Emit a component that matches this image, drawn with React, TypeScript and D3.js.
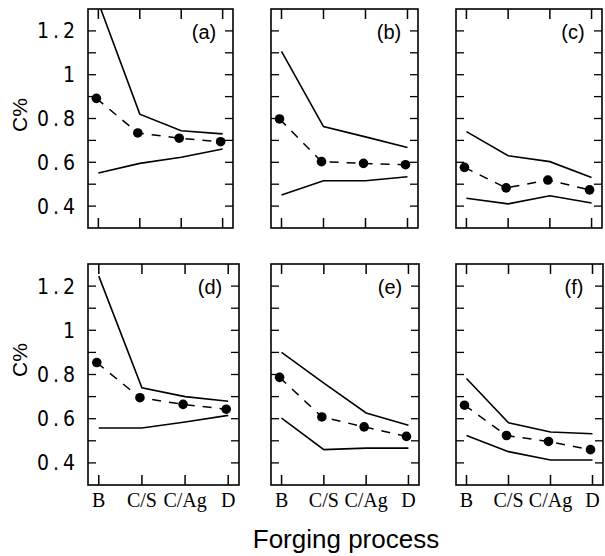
import React from 'react';
import * as d3 from 'd3';

const W = 605;
const H = 556;

const categories = ['B', 'C/S', 'C/Ag', 'D'];
const yTicks = [0.4, 0.5, 0.6, 0.7, 0.8, 0.9, 1.0, 1.1, 1.2];
const yLabels = ['0.4', '0.6', '0.8', '1', '1.2'];
const panelNames = ['(a)', '(b)', '(c)', '(d)', '(e)', '(f)'];

// upper bound / mean / lower bound of C% for each panel
const upperA = [1.33, 0.82, 0.744, 0.73];
const meanA = [0.892, 0.734, 0.71, 0.694];
const lowerA = [0.551, 0.595, 0.623, 0.661];

const upperB = [1.107, 0.763, 0.716, 0.668];
const meanB = [0.798, 0.603, 0.595, 0.589];
const lowerB = [0.451, 0.516, 0.516, 0.534];

const upperC = [0.74, 0.63, 0.603, 0.531];
const meanC = [0.577, 0.483, 0.519, 0.474];
const lowerC = [0.436, 0.41, 0.447, 0.414];

const upperD = [1.245, 0.74, 0.7, 0.679];
const meanD = [0.854, 0.695, 0.665, 0.643];
const lowerD = [0.558, 0.558, 0.585, 0.615];

const upperE = [0.9, 0.761, 0.626, 0.57];
const meanE = [0.787, 0.608, 0.563, 0.52];
const lowerE = [0.603, 0.46, 0.467, 0.467];

const upperF = [0.782, 0.582, 0.54, 0.532];
const meanF = [0.661, 0.524, 0.497, 0.46];
const lowerF = [0.524, 0.451, 0.413, 0.413];

const series = [
  [upperA, meanA, lowerA],
  [upperB, meanB, lowerB],
  [upperC, meanC, lowerC],
  [upperD, meanD, lowerD],
  [upperE, meanE, lowerE],
  [upperF, meanF, lowerF],
];

// panel boxes [left, right, top, bottom]
const boxes = [
  [88, 233, 9, 228],
  [271, 418, 9, 228],
  [456, 602, 9, 228],
  [88, 239, 264, 485],
  [271, 419, 264, 485],
  [456, 603, 264, 485],
];

const SANS = 'Arial, "Liberation Sans", Helvetica, sans-serif';
const NARROW = '"Liberation Sans Narrow", "DejaVu Sans Condensed", Arial, sans-serif';
const SERIF = '"Times New Roman", "Liberation Serif", serif';

const Panel = ({ idx }: { idx: number }) => {
  const [l, r, t, b] = boxes[idx];
  const [upper, mean, lower] = series[idx];
  const x = d3.scaleLinear().domain([-0.25, 3.25]).range([l, r]);
  const y = d3.scaleLinear().domain([0.3, 1.3]).range([b, t]);
  const line = d3
    .line<number>()
    .x((_, i) => x(i))
    .y((v) => y(v));
  const meanLine = d3
    .line<number>()
    .x((_, i) => x(i) - 2)
    .y((v) => y(v));
  const clipId = `clip-${idx}`;
  const isLeft = idx % 3 === 0;
  const isBottom = idx >= 3;

  return (
    <g>
      <defs>
        <clipPath id={clipId}>
          <rect x={l} y={t} width={r - l} height={b - t} />
        </clipPath>
      </defs>
      <g clipPath={`url(#${clipId})`}>
        <path d={line(upper) || ''} fill="none" stroke="#000" strokeWidth={1.6} />
        <path d={line(lower) || ''} fill="none" stroke="#000" strokeWidth={1.6} />
        <path
          d={meanLine(mean) || ''}
          fill="none"
          stroke="#000"
          strokeWidth={1.5}
          strokeDasharray="9,8"
        />
        {mean.map((v, i) => (
          <circle key={i} cx={x(i) - 2} cy={y(v)} r={4.8} fill="#000" />
        ))}
      </g>
      {yTicks.map((v) => (
        <g key={v}>
          <line x1={l} x2={l + 8} y1={y(v)} y2={y(v)} stroke="#000" strokeWidth={1.3} />
          <line x1={r} x2={r - 8} y1={y(v)} y2={y(v)} stroke="#000" strokeWidth={1.3} />
        </g>
      ))}
      {categories.map((c, i) => (
        <g key={c}>
          <line x1={x(i)} x2={x(i)} y1={t} y2={t + 10} stroke="#000" strokeWidth={1.5} />
          <line x1={x(i)} x2={x(i)} y1={b} y2={b - 10} stroke="#000" strokeWidth={1.5} />
          {isBottom && (
            <text
              x={x(i)}
              y={507}
              textAnchor="middle"
              fontFamily={SERIF}
              fontSize={20}
              fill="#000"
            >
              {c}
            </text>
          )}
        </g>
      ))}
      <rect x={l} y={t} width={r - l} height={b - t} fill="none" stroke="#000" strokeWidth={1.6} />
      <text
        x={r - 29}
        y={t + 25}
        textAnchor="middle"
        dominantBaseline="middle"
        fontFamily={SANS}
        fontSize={20}
        fill="#000"
      >
        {panelNames[idx]}
      </text>
      {isLeft &&
        yLabels.map((s) => (
          <text
            key={s}
            x={79}
            y={y(+s)}
            dy="0.36em"
            textAnchor="end"
            fontFamily={NARROW}
            fontSize={21}
            letterSpacing={4}
            fill="#000"
          >
            {s}
          </text>
        ))}
      {isLeft && (
        <text
          transform={`translate(27, ${isBottom ? 360 : 115}) rotate(-90)`}
          textAnchor="middle"
          fontFamily={SANS}
          fontSize={21}
          fill="#000"
        >
          C%
        </text>
      )}
    </g>
  );
};

export default function App() {
  return (
    <svg
      width={W}
      height={H}
      style={{ position: 'absolute', left: 0, top: 0, background: '#fff' }}
    >
      <rect width={W} height={H} fill="#fff" />
      {boxes.map((_, i) => (
        <Panel key={i} idx={i} />
      ))}
      <text x={346} y={548} textAnchor="middle" fontFamily={SANS} fontSize={26} fill="#000">
        Forging process
      </text>
    </svg>
  );
}
